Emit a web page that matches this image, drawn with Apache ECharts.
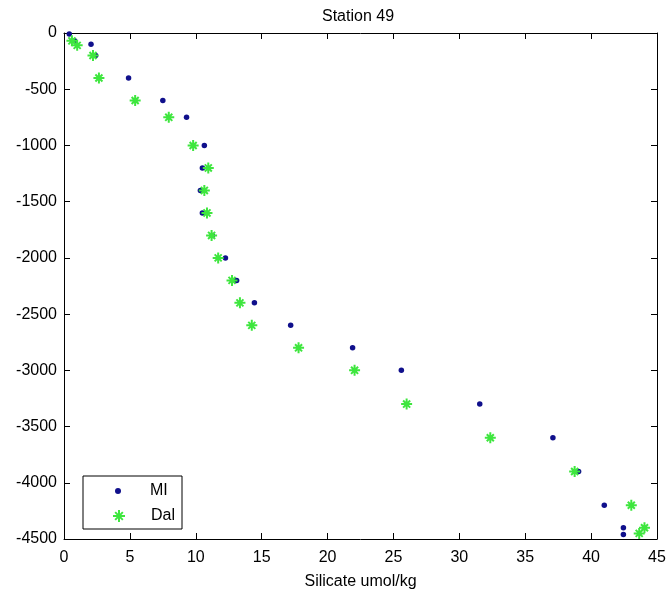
<!DOCTYPE html>
<html>
<head>
<meta charset="utf-8">
<script src="https://cdn.jsdelivr.net/npm/echarts@6/dist/echarts.min.js"></script>
<style>html,body{margin:0;padding:0;background:#fff}#c{width:671px;height:595px}</style>
</head>
<body>
<div id="c"></div>
<script>
var titleText = 'Station 49';
var xName = 'Silicate umol/kg';
var seriesNames = ['MI', 'Dal'];
var miX = [0.4, 0.8, 2.05, 2.4, 4.9, 7.5, 9.3, 10.65, 10.5, 10.35, 10.5, 11.25, 12.25, 13.1, 14.45, 17.2, 21.9, 25.6, 31.55, 37.1, 39.05, 41.0, 42.45, 42.45];
var miDepth = [-10, -70, -100, -200, -400, -600, -750, -1000, -1200, -1400, -1600, -1800, -2000, -2200, -2400, -2600, -2800, -3000, -3300, -3600, -3900, -4200, -4400, -4460];
var dalX = [0.6, 1.0, 2.2, 2.65, 5.4, 7.95, 9.8, 10.95, 10.65, 10.85, 11.2, 11.7, 12.75, 13.35, 14.25, 17.8, 22.05, 26.0, 32.35, 38.75, 43.05, 44.05, 43.65];
var dalDepth = [-70, -110, -200, -400, -600, -750, -1000, -1200, -1400, -1600, -1800, -2000, -2200, -2400, -2600, -2800, -3000, -3300, -3600, -3900, -4200, -4400, -4450];
var xTicks = {min: 0, max: 45, interval: 5};
var yTicks = {min: -4500, max: 0, interval: 500};

function pairs(xs, ys) { return xs.map(function (v, i) { return [v, ys[i]]; }); }

var FONT = '"Liberation Sans", Arial, sans-serif';
var blue = '#10108c';
var green = '#3ee63e';
var star = 'path://M5,0L5,10M0,5L10,5M1.8,1.8L8.2,8.2M1.8,8.2L8.2,1.8';

var axisCommon = {
  axisLine: {onZero: false, lineStyle: {color: '#000', width: 1}},
  axisTick: {inside: true, length: 6, lineStyle: {color: '#000'}},
  splitLine: {show: false}
};
function plain(v) { return String(v); }

var chart = echarts.init(document.getElementById('c'), null, {renderer: 'canvas'});
chart.setOption({
  animation: false,
  backgroundColor: '#fff',
  title: {text: titleText, left: 322, top: 9, padding: 0,
    textStyle: {fontFamily: FONT, fontSize: 16, fontWeight: 'normal', color: '#000'}},
  grid: {left: 64, right: 14, top: 33, bottom: 53},
  xAxis: [
    Object.assign({type: 'value', position: 'bottom', min: xTicks.min, max: xTicks.max, interval: xTicks.interval,
      name: xName, nameLocation: 'middle', nameGap: 35,
      nameTextStyle: {fontFamily: FONT, fontSize: 16, color: '#000'},
      axisLabel: {fontFamily: FONT, fontSize: 16, color: '#000', margin: 11, formatter: plain}}, axisCommon),
    Object.assign({type: 'value', position: 'top', min: xTicks.min, max: xTicks.max, interval: xTicks.interval,
      axisLabel: {show: false}}, axisCommon)
  ],
  yAxis: [
    Object.assign({type: 'value', position: 'left', min: yTicks.min, max: yTicks.max, interval: yTicks.interval,
      axisLabel: {fontFamily: FONT, fontSize: 16, color: '#000', margin: 7, formatter: plain}}, axisCommon),
    Object.assign({type: 'value', position: 'right', min: yTicks.min, max: yTicks.max, interval: yTicks.interval,
      axisLabel: {show: false}}, axisCommon)
  ],
  graphic: [{type: 'rect', z: 10, shape: {x: 83, y: 476, width: 99, height: 53},
    style: {fill: '#fff', stroke: '#000', lineWidth: 1}}],
  legend: [
    {data: [seriesNames[0]], left: 115, top: 483, padding: 0, z: 20, itemWidth: 6, itemHeight: 6,
      textStyle: {fontFamily: FONT, fontSize: 16, color: '#000', padding: [0, 0, 0, 24]}},
    {data: [seriesNames[1]], left: 112, top: 508, padding: 0, z: 20, itemWidth: 12, itemHeight: 12,
      textStyle: {fontFamily: FONT, fontSize: 16, color: '#000', padding: [0, 0, 0, 21]}}
  ],
  series: [
    {name: seriesNames[0], type: 'scatter', symbol: 'circle', symbolSize: 5.5,
      itemStyle: {color: blue, opacity: 1}, data: pairs(miX, miDepth), z: 2},
    {name: seriesNames[1], type: 'scatter', symbol: star, symbolSize: 11,
      itemStyle: {color: green, borderColor: green, borderWidth: 2, opacity: 1}, data: pairs(dalX, dalDepth), z: 3}
  ]
});
</script>
</body>
</html>
